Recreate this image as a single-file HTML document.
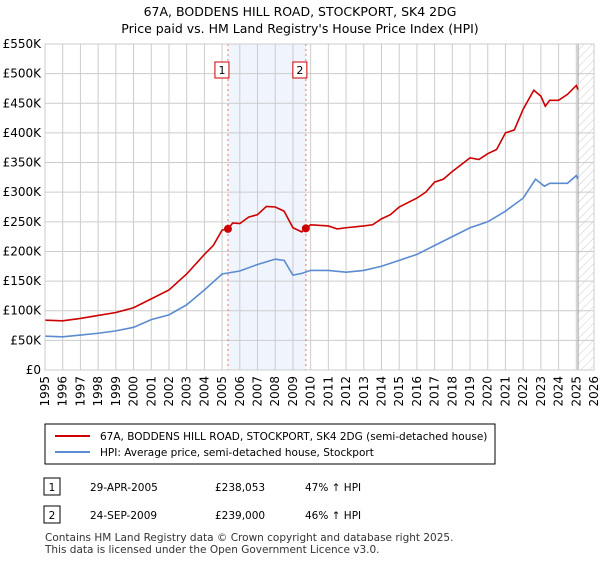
<!DOCTYPE html>
<html><head><meta charset="utf-8"><style>
body{margin:0;width:600px;height:560px;background:#fff;font-family:"DejaVu Sans","Liberation Sans",sans-serif;overflow:hidden}
svg text{font-family:"DejaVu Sans","Liberation Sans",sans-serif}
</style></head><body>
<svg id="chart" width="600" height="560">
<defs><pattern id="hatch" width="6" height="6" patternUnits="userSpaceOnUse" patternTransform="rotate(45)"><line x1="0" y1="0" x2="0" y2="6" stroke="#ccc" stroke-width="1"/></pattern></defs>
<text x="300" y="16" text-anchor="middle" font-size="12.5">67A, BODDENS HILL ROAD, STOCKPORT, SK4 2DG</text>
<text x="300" y="33" text-anchor="middle" font-size="12.5">Price paid vs. HM Land Registry's House Price Index (HPI)</text>
<g id="plot"></g>
<rect x="45" y="424" width="450" height="40" fill="#fff" stroke="#000"/>
<line x1="55" y1="436" x2="90" y2="436" stroke="#cc0000" stroke-width="2"/>
<text x="100" y="440" font-size="10.5">67A, BODDENS HILL ROAD, STOCKPORT, SK4 2DG (semi-detached house)</text>
<line x1="55" y1="452" x2="90" y2="452" stroke="#5b8bd0" stroke-width="2"/>
<text x="100" y="456" font-size="10.5">HPI: Average price, semi-detached house, Stockport</text>
<g>
<rect x="44" y="478" width="16" height="17" fill="#fff" stroke="#000"/><text x="52" y="491" text-anchor="middle" font-size="10.5">1</text>
<text x="90" y="491" font-size="10.5">29-APR-2005</text><text x="215" y="491" font-size="10.5">£238,053</text><text x="305" y="491" font-size="10.5">47% ↑ HPI</text></g>
<g>
<rect x="44" y="506" width="16" height="17" fill="#fff" stroke="#000"/><text x="52" y="519" text-anchor="middle" font-size="10.5">2</text>
<text x="90" y="519" font-size="10.5">24-SEP-2009</text><text x="215" y="519" font-size="10.5">£239,000</text><text x="305" y="519" font-size="10.5">46% ↑ HPI</text></g>
<text x="45" y="541" font-size="10.5" fill="#333">Contains HM Land Registry data © Crown copyright and database right 2025.</text>
<text x="45" y="553" font-size="10.5" fill="#333">This data is licensed under the Open Government Licence v3.0.</text>
</svg>
<script>
const priceT=[1995,1996,1997,1998,1999,2000,2001,2002,2003,2004,2004.5,2005,2005.33,2005.6,2006,2006.5,2007,2007.5,2008,2008.5,2009,2009.5,2009.73,2010,2011,2011.5,2012,2013,2013.5,2014,2014.5,2015,2016,2016.5,2017,2017.5,2018,2019,2019.5,2020,2020.5,2021,2021.5,2022,2022.6,2023,2023.25,2023.5,2024,2024.5,2025,2025.1];
const priceV=[84,83,87,92,97,105,120,135,162,195,210,236,238,248,247,258,262,276,275,268,240,233,239,245,243,238,240,243,245,255,262,275,290,300,317,322,335,358,355,365,372,400,405,440,472,462,445,455,455,465,480,473];
const hpiT=[1995,1996,1997,1998,1999,2000,2001,2002,2003,2004,2005,2006,2007,2008,2008.5,2009,2009.5,2010,2011,2012,2013,2014,2015,2016,2017,2018,2019,2020,2021,2022,2022.7,2023.2,2023.5,2024,2024.5,2025,2025.1];
const hpiV=[57,56,59,62,66,72,85,93,110,135,162,167,178,187,185,160,163,168,168,165,168,175,185,195,210,225,240,250,268,290,322,310,315,315,315,328,322];
const yTicks=[0,50,100,150,200,250,300,350,400,450,500,550];
const xYears=[1995,1996,1997,1998,1999,2000,2001,2002,2003,2004,2005,2006,2007,2008,2009,2010,2011,2012,2013,2014,2015,2016,2017,2018,2019,2020,2021,2022,2023,2024,2025,2026];
const sales=[{t:2005.33,v:238.053,label:"1"},{t:2009.73,v:239,label:"2"}];
const X0=45,X1=594,Y0=370,Y1=44,dataEnd=2025.1;
const xs=t=>X0+(t-1995)/(2026-1995)*(X1-X0);
const ys=v=>Y0-v/550*(Y0-Y1);
const NS="http://www.w3.org/2000/svg";
const g=document.getElementById('plot');
function mk(tag,attrs,parent){const e=document.createElementNS(NS,tag);for(const k in attrs)e.setAttribute(k,attrs[k]);(parent||g).appendChild(e);return e;}
let e=mk('rect',{x:xs(sales[0].t),y:Y1,width:xs(sales[1].t)-xs(sales[0].t),height:Y0-Y1,fill:'#f0f4fc'});


e=mk('rect',{x:xs(dataEnd),y:Y1,width:X1-xs(dataEnd),height:Y0-Y1,fill:'url(#hatch)'});


xYears.forEach(y=>{const l=mk('line',{x1:xs(y),x2:xs(y),y1:Y1,y2:Y0,stroke:'#ccc'});


const t=mk('text',{x:0,y:0,'font-size':12,'text-anchor':'end',transform:`translate(${xs(y)+4},${Y0+6}) rotate(-90)`});t.textContent=y;

});
yTicks.forEach(v=>{const l=mk('line',{x1:X0,x2:X1,y1:ys(v),y2:ys(v),stroke:'#ccc'});


const t=mk('text',{x:X0-4,y:ys(v)+4,'font-size':12,'text-anchor':'end'});t.textContent=v===0?'£0':'£'+v+'K';

});
e=mk('line',{x1:xs(dataEnd),x2:xs(dataEnd),y1:Y1,y2:Y0,stroke:'#999'});


sales.forEach(s=>{const l=mk('line',{x1:xs(s.t),x2:xs(s.t),y1:Y1,y2:Y0,stroke:'#f07070','stroke-dasharray':'2,3'});


const r=mk('rect',{x:xs(s.t)-13,y:62,width:14,height:16,fill:'#fff',stroke:'#cc0000'});


const t=mk('text',{x:xs(s.t)-6,y:74,'font-size':11,'text-anchor':'middle'});t.textContent=s.label;

});
function line(T,V,c,name){const p=mk('polyline',{points:T.map((t,i)=>xs(t)+','+ys(V[i])).join(' '),fill:'none',stroke:c,'stroke-width':1.6});

}
line(hpiT,hpiV,'#5b8bd0','hpi-line');
line(priceT,priceV,'#cc0000','price-line');
sales.forEach(s=>{const c=mk('circle',{cx:xs(s.t),cy:ys(s.v),r:4,fill:'#cc0000'});

});
e=mk('rect',{x:X0,y:Y1,width:X1-X0,height:Y0-Y1,fill:'none',stroke:'#ccc'});


</script>
</body></html>
